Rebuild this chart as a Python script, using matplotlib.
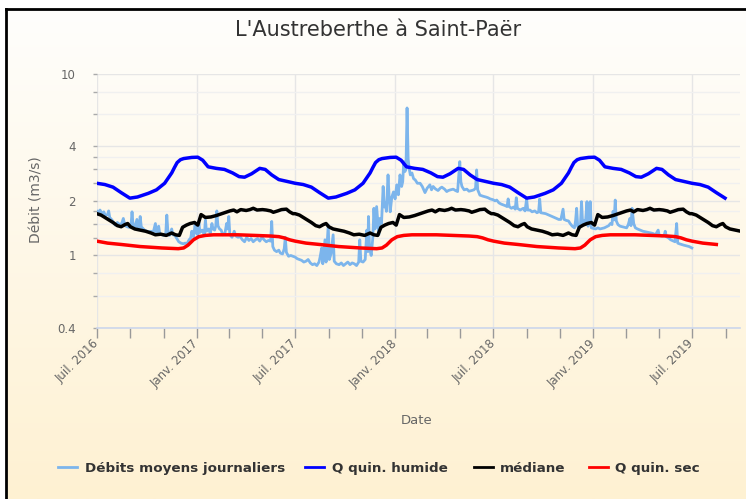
import numpy as np
import pandas as pd
import matplotlib
matplotlib.use('Agg')
import matplotlib.pyplot as plt
import matplotlib.dates as mdates
from matplotlib.ticker import FixedLocator, FixedFormatter, NullFormatter, FuncFormatter
from matplotlib.lines import Line2D
from matplotlib.colors import to_rgb

# ========== 数据 ==========
START = pd.Timestamp('2016-07-01')
N_DAYS = 1183                     # fin de l'axe (~27 sept. 2019)
YEAR_STARTS = ['2016-07-01', '2017-07-01', '2018-07-01', '2019-07-01']

# débits moyens journaliers : jours depuis le 1er juil. 2016 / valeur (m3/s)
DAILY_DAYS = [
    0, 3, 6, 10, 13, 16, 20, 22, 24, 28,
    31, 34, 38, 42, 46, 49, 52, 56, 59, 63,
    65, 67, 70, 74, 76, 78, 80, 82, 86, 89,
    93, 96, 100, 104, 108, 110, 114, 116, 120, 124,
    127, 129, 131, 134, 138, 140, 144, 148, 151, 155,
    159, 163, 166, 170, 173, 175, 178, 181, 183, 186,
    188, 190, 194, 198, 200, 202, 206, 209, 212, 214,
    217, 219, 221, 223, 226, 229, 232, 236, 239, 241,
    243, 245, 249, 253, 256, 260, 264, 268, 272, 276,
    280, 284, 288, 292, 296, 300, 304, 308, 312, 316,
    320, 322, 324, 327, 331, 335, 338, 342, 345, 347,
    349, 353, 357, 361, 365, 369, 373, 377, 381, 385,
    389, 393, 397, 401, 405, 409, 411, 414, 416, 420,
    422, 426, 428, 431, 435, 437, 441, 446, 450, 454,
    458, 462, 466, 470, 474, 478, 482, 484, 486, 490,
    494, 497, 499, 500, 502, 505, 508, 510, 512, 515,
    517, 519, 521, 524, 527, 529, 531, 533, 536, 538,
    540, 543, 546, 549, 552, 555, 558, 561, 563, 565,
    567, 569, 571, 573, 575, 577, 580, 583, 586, 590,
    595, 599, 604, 608, 613, 616, 619, 623, 628, 632,
    635, 640, 644, 647, 651, 656, 660, 664, 668, 670,
    672, 676, 681, 685, 690, 694, 697, 699, 701, 705,
    711, 716, 720, 724, 729, 733, 736, 740, 744, 748,
    752, 755, 757, 759, 763, 767, 770, 772, 774, 779,
    782, 785, 788, 791, 793, 797, 801, 806, 810, 813,
    815, 817, 822, 826, 830, 834, 838, 842, 846, 850,
    854, 858, 860, 864, 868, 871, 875, 879, 881, 883,
    885, 887, 890, 892, 894, 897, 899, 902, 904, 906,
    908, 910, 914, 918, 922, 926, 930, 934, 938, 942,
    945, 948, 950, 952, 954, 956, 959, 963, 967, 971,
    975, 978, 981, 983, 985, 988, 991, 995, 1000, 1005,
    1010, 1015, 1020, 1024, 1028, 1033, 1035, 1040, 1044, 1046,
    1048, 1052, 1056, 1061, 1064, 1067, 1069, 1072, 1076, 1080,
    1085, 1090, 1095,
]
DAILY_VALS = [
    1.76, 1.72, 1.78, 1.70, 1.74, 1.66, 1.68, 1.76, 1.62, 1.57,
    1.52, 1.47, 1.52, 1.48, 1.50, 1.60, 1.46, 1.44, 1.43, 1.44,
    1.74, 1.46, 1.42, 1.58, 1.41, 1.40, 1.64, 1.44, 1.40, 1.37,
    1.36, 1.35, 1.36, 1.34, 1.50, 1.33, 1.45, 1.32, 1.30, 1.29,
    1.31, 1.67, 1.35, 1.29, 1.40, 1.30, 1.29, 1.23, 1.19, 1.17,
    1.16, 1.17, 1.16, 1.22, 1.25, 1.36, 1.27, 1.47, 1.33, 1.30,
    1.52, 1.34, 1.38, 1.30, 1.57, 1.36, 1.40, 1.32, 1.50, 1.40,
    1.38, 1.45, 1.76, 1.46, 1.40, 1.38, 1.30, 1.33, 1.50, 1.40,
    1.64, 1.30, 1.26, 1.36, 1.28, 1.26, 1.27, 1.22, 1.19, 1.26,
    1.21, 1.24, 1.19, 1.22, 1.24, 1.20, 1.26, 1.22, 1.19, 1.21,
    1.20, 1.54, 1.12, 1.07, 1.05, 1.07, 1.03, 1.02, 1.09, 1.26,
    1.04, 0.99, 1.00, 0.99, 0.98, 0.96, 0.95, 0.94, 0.92, 0.93,
    0.95, 0.91, 0.89, 0.90, 0.88, 0.92, 0.98, 1.10, 0.90, 1.22,
    0.92, 1.47, 0.95, 1.02, 1.30, 0.93, 0.90, 0.89, 0.91, 0.88,
    0.90, 0.92, 0.89, 0.91, 0.90, 0.88, 0.92, 1.22, 0.93, 0.92,
    0.95, 1.38, 1.05, 1.64, 1.10, 1.00, 1.25, 1.82, 1.40, 1.86,
    1.55, 1.30, 1.60, 1.50, 2.40, 1.85, 1.95, 1.75, 2.78, 2.10,
    1.74, 2.10, 2.24, 2.05, 2.45, 2.16, 2.78, 2.40, 2.55, 3.29,
    2.90, 3.00, 6.50, 3.40, 3.00, 2.78, 2.85, 2.65, 2.61, 2.50,
    2.50, 2.40, 2.22, 2.35, 2.45, 2.30, 2.40, 2.33, 2.28, 2.35,
    2.38, 2.32, 2.25, 2.28, 2.30, 2.32, 2.28, 2.25, 3.29, 2.55,
    2.40, 2.30, 2.32, 2.26, 2.28, 2.30, 2.35, 2.96, 2.30, 2.15,
    2.12, 2.10, 2.08, 2.05, 2.03, 2.00, 2.02, 1.95, 1.92, 1.90,
    1.88, 1.86, 2.05, 1.86, 1.82, 1.85, 1.80, 2.08, 1.82, 1.78,
    1.80, 1.82, 1.76, 2.05, 1.78, 1.78, 1.74, 1.76, 1.72, 1.74,
    2.05, 1.72, 1.71, 1.70, 1.68, 1.66, 1.64, 1.62, 1.60, 1.58,
    1.58, 1.80, 1.58, 1.56, 1.55, 1.50, 1.45, 1.42, 1.55, 1.82,
    1.45, 1.40, 1.48, 1.98, 1.50, 1.55, 1.48, 1.98, 1.45, 1.60,
    1.98, 1.42, 1.41, 1.40, 1.42, 1.40, 1.41, 1.42, 1.44, 1.46,
    1.50, 1.48, 1.75, 1.57, 2.02, 1.55, 1.48, 1.45, 1.44, 1.43,
    1.42, 1.48, 1.60, 1.46, 1.82, 1.50, 1.42, 1.40, 1.38, 1.36,
    1.35, 1.34, 1.33, 1.32, 1.30, 1.38, 1.29, 1.28, 1.29, 1.36,
    1.27, 1.25, 1.22, 1.20, 1.19, 1.50, 1.17, 1.16, 1.15, 1.14,
    1.13, 1.12, 1.10,
]

# statistiques interannuelles : jours depuis le 1er juillet / valeur
HUM_DAYS = [0, 15, 30, 45, 61, 75, 95, 110, 125, 138, 143, 148, 154, 160,
            175, 186, 195, 205, 220, 235, 250, 262, 272, 285, 300, 310,
            322, 335, 350, 365]
HUM_VALS = [2.50, 2.46, 2.38, 2.22, 2.07, 2.10, 2.20, 2.30, 2.50, 2.85, 3.05,
            3.25, 3.37, 3.42, 3.47, 3.48, 3.35, 3.08, 3.02, 2.98, 2.85, 2.72,
            2.70, 2.82, 3.02, 2.98, 2.78, 2.62, 2.56, 2.50]

MED_DAYS = [0, 8, 15, 22, 30, 38, 45, 52, 57, 62, 70, 80, 90, 100, 108, 118,
            128, 138, 145, 152, 158, 165, 172, 180, 186, 192, 200, 210, 220,
            235, 245, 252, 258, 265, 275, 282, 288, 295, 305, 312, 320, 325,
            333, 340, 349, 355, 361, 365]
MED_VALS = [1.70, 1.67, 1.62, 1.57, 1.52, 1.46, 1.44, 1.48, 1.50, 1.44, 1.40,
            1.38, 1.36, 1.33, 1.30, 1.31, 1.29, 1.33, 1.30, 1.29, 1.43, 1.47,
            1.50, 1.52, 1.47, 1.68, 1.62, 1.63, 1.66, 1.72, 1.76, 1.78, 1.74,
            1.79, 1.77, 1.79, 1.82, 1.78, 1.79, 1.78, 1.76, 1.73, 1.76, 1.79,
            1.80, 1.74, 1.70, 1.70]

SEC_DAYS = [0, 20, 45, 80, 120, 150, 160, 168, 178, 188, 200, 215, 260, 290,
            320, 335, 345, 355, 365]
SEC_VALS = [1.20, 1.17, 1.15, 1.12, 1.10, 1.09, 1.10, 1.14, 1.22, 1.27, 1.29,
            1.30, 1.30, 1.29, 1.28, 1.27, 1.25, 1.22, 1.20]

LAST_DAY = {'hum': 63, 'med': 90, 'sec': 63}   # fin des courbes en 2019

Y_MAJOR = [0.4, 1, 2, 4, 10]
Y_MAJOR_LABELS = ['0.4', '1', '2', '4', '10']
Y_MINOR = [0.6, 0.8, 1.25, 1.5, 1.75, 2.5, 3, 3.5, 6, 8]
MOIS = {1: 'Janv.', 7: 'Juil.'}

LEGEND = [
    ('Débits moyens journaliers', '#7cb5ec', 58, 85),
    ('Q quin. humide', '#0000ff', 305, 332),
    ('médiane', '#000000', 474, 500),
    ('Q quin. sec', '#ff0000', 589, 615),
]

# ========== 画布 ==========
W, H = 746, 499
def px(x):
    return x / W
def py(y):
    return 1 - y / H

fig = plt.figure(figsize=(W / 100, H / 100), dpi=100)
fig.patch.set_facecolor('white')

# fond dégradé
bg = fig.add_axes([px(6), 0, 1 - px(6), py(9)], zorder=-10)
top, bot = np.array(to_rgb('#fffefc')), np.array(to_rgb('#fef1d2'))
t = np.linspace(0, 1, 256)[:, None, None]
bg.imshow(top * (1 - t) + bot * t, aspect='auto', extent=[0, 1, 0, 1])
bg.axis('off')

# cadre
fig.add_artist(Line2D([px(6), px(6)], [0, py(9)], color='black', lw=2))
fig.add_artist(Line2D([px(6), 1], [py(9), py(9)], color='black', lw=2))

ax = fig.add_axes([px(96.7), py(327.7), px(739.7 - 96.7), (327.7 - 74) / H])
ax.set_facecolor('none')


def annual(days, vals, cut):
    xs, ys = [], []
    for i, s in enumerate(YEAR_STARTS):
        s = pd.Timestamp(s)
        for d, v in zip(days, vals):
            if i == len(YEAR_STARTS) - 1 and d > cut:
                break
            xs.append(s + pd.Timedelta(days=d))
            ys.append(v)
    return xs, ys


daily_x = [START + pd.Timedelta(days=d) for d in DAILY_DAYS]
ax.plot(daily_x, DAILY_VALS, color='#7cb5ec', lw=2, zorder=3)
for days, vals, key, clr in [(HUM_DAYS, HUM_VALS, 'hum', '#0000ff'),
                             (MED_DAYS, MED_VALS, 'med', '#000000'),
                             (SEC_DAYS, SEC_VALS, 'sec', '#ff0000')]:
    xs, ys = annual(days, vals, LAST_DAY[key])
    ax.plot(xs, ys, color=clr, lw=2.5, zorder=4)

ax.set_yscale('log')
ax.set_ylim(0.4, 10)
ax.set_xlim(START, START + pd.Timedelta(days=N_DAYS))

ax.yaxis.set_major_locator(FixedLocator(Y_MAJOR))
ax.yaxis.set_major_formatter(FixedFormatter(Y_MAJOR_LABELS))
ax.yaxis.set_minor_locator(FixedLocator(Y_MINOR))
ax.yaxis.set_minor_formatter(NullFormatter())

ax.xaxis.set_major_locator(mdates.MonthLocator(bymonth=[1, 7]))
ax.xaxis.set_minor_locator(mdates.MonthLocator(bymonth=[3, 5, 9, 11]))
def fmt_date(v, pos):
    d = mdates.num2date(v)
    return f'{MOIS.get(d.month, "")} {d.year}'
ax.xaxis.set_major_formatter(FuncFormatter(fmt_date))

ax.grid(True, which='major', axis='both', color='#e6e6e6', lw=1, zorder=0)
ax.grid(True, which='minor', axis='y', color='#f0f0f0', lw=1, zorder=0)
ax.set_axisbelow(True)

for sp in ['top', 'right', 'left']:
    ax.spines[sp].set_visible(False)
ax.spines['bottom'].set_color('#ccd6eb')
ax.spines['bottom'].set_linewidth(1.2)

ax.tick_params(axis='y', which='both', length=3, width=1, color='#aaaaaa',
               pad=12, labelsize=8.5, labelcolor='#666666')
ax.tick_params(axis='x', which='both', length=7.2, width=1, color='#999999',
               pad=3, labelsize=8.5, labelcolor='#666666')
for lbl in ax.get_xticklabels():
    lbl.set_rotation(45)
    lbl.set_ha('right')
    lbl.set_va('center')
    lbl.set_rotation_mode('anchor')

# textes
fig.text(px(378), py(30), "L'Austreberthe à Saint-Paër", ha='center', va='center',
         fontsize=15, color='#333333')
fig.text(px(36), py(200), 'Débit (m3/s)', rotation=90, ha='center', va='center',
         fontsize=10, color='#666666')
fig.text(px(417), py(420), 'Date', ha='center', va='center',
         fontsize=9.5, color='#666666')

# légende
for name, clr, x0, xt in LEGEND:
    fig.add_artist(Line2D([px(x0), px(x0 + 19)], [py(467), py(467)], color=clr, lw=2))
    fig.text(px(xt), py(467), name, ha='left', va='center_baseline', fontsize=9.7,
             fontweight='bold', color='#333333')

fig.savefig('out.png', dpi=100)
